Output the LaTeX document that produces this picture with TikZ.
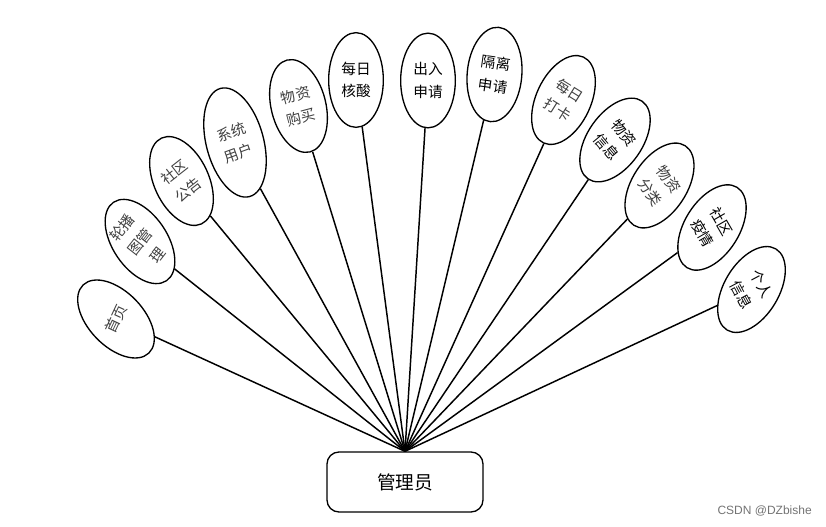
\documentclass[tikz,border=0pt]{standalone}
\usepackage{fontspec}
\newfontfamily\cjk{Noto Sans CJK SC}
\newfontfamily\wmfont{Liberation Sans}
\usetikzlibrary{shapes.geometric}
\begin{document}
\begin{tikzpicture}[x=0.75pt,y=-0.75pt,
  ov/.style={ellipse, draw, line width=1pt, inner sep=0pt, minimum width=41pt, minimum height=71pt},
  bigov/.style={minimum width=43pt, minimum height=84pt},
  lt/.style={font=\cjk\fontsize{11}{17}\selectfont, align=center, text=black!75, inner sep=0pt},
  dk/.style={font=\cjk\fontsize{11}{17}\selectfont, align=center, text=black, inner sep=0pt},
  link/.style={line width=1.1pt}]
\useasboundingbox (0,0) rectangle (826,527);

\node[draw, line width=1pt, rounded corners=9pt, minimum width=117pt, minimum height=45pt,
      font=\cjk\fontsize{14}{16}\selectfont] (admin) at (405,482) {管理员};

\node[ov, rotate=44] (e1) at (116,319) {};
\node[lt, rotate=65] (t1) at (e1) {首页};
\node[ov, rotate=34] (e2) at (140,241.5) {};
\node[lt, rotate=52] (t2) at (e2) {轮播\\图管\\理};
\node[ov, rotate=25] (e3) at (181.5,181) {};
\node[lt, rotate=38] (t3) at (e3) {社区\\公告};
\node[ov, bigov, rotate=15] (e4) at (235,142.5) {};
\node[lt, rotate=20] (t4) at (e4) {系统\\用户};
\node[ov, rotate=14] (e5) at (298.5,106) {};
\node[lt, rotate=15] (t5) at (e5) {物资\\购买};
\node[ov] (e6) at (356,80) {};
\node[dk] (t6) at (e6) {每日\\核酸};
\node[ov] (e7) at (428,80.5) {};
\node[dk] (t7) at (e7) {出入\\申请};
\node[ov, rotate=-5] (e8) at (494.5,74.5) {};
\node[dk, rotate=-8] (t8) at (e8) {隔离\\申请};
\node[ov, rotate=-25] (e9) at (563.5,100) {};
\node[lt, rotate=-32] (t9) at (e9) {每日\\打卡};
\node[ov, rotate=-35] (e10) at (615,140) {};
\node[dk, rotate=-50] (t10) at (e10) {物资\\信息};
\node[ov, rotate=-33] (e11) at (659.5,185.5) {};
\node[lt, rotate=-55] (t11) at (e11) {物资\\分类};
\node[ov, rotate=-32] (e12) at (712,227.5) {};
\node[dk, rotate=-60] (t12) at (e12) {社区\\疫情};
\node[ov, rotate=-31] (e13) at (751.5,289.5) {};
\node[dk, rotate=-62] (t13) at (e13) {个人\\信息};

\foreach \i in {1,...,13} {\draw[link] (admin.north) -- (e\i);}

\node[font=\wmfont\fontsize{9}{10}\selectfont, text=black!55, anchor=east, inner sep=0pt] (wm) at (812,511) {CSDN @DZbishe};
\end{tikzpicture}
\end{document}
